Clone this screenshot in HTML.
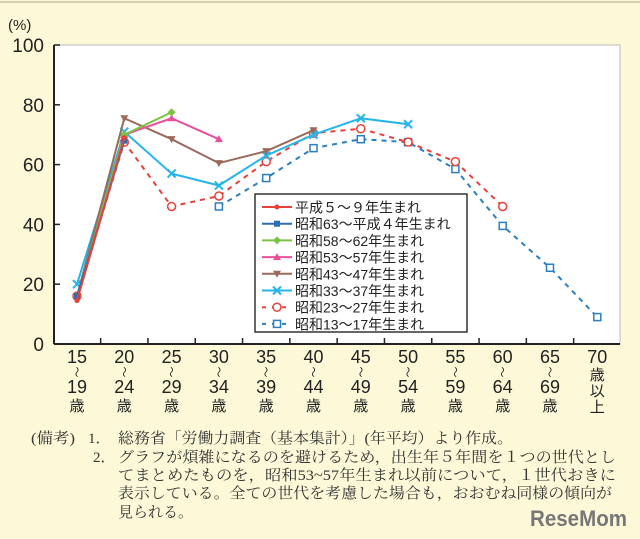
<!DOCTYPE html>
<html><head><meta charset="utf-8">
<style>
body{margin:0;background:#fdf9d8;}
svg{display:block;font-family:"Liberation Sans","Noto Sans CJK JP",sans-serif;}
</style></head>
<body>
<svg id="chart" width="640" height="539" viewBox="0 0 640 539">
<rect x="0" y="0" width="640" height="539" fill="#fdf9d8"/>
<line x1="0" y1="2" x2="640" y2="2" stroke="#d8d2b0" stroke-width="2"/>
<rect x="54" y="45" width="566" height="299" fill="#fff" stroke="#bbb" stroke-width="1"/>
<g id="axes"></g>
<g id="series"></g>
<g id="legend"></g>
<text x="8" y="30" font-size="15" fill="#222">(%)</text>
<g font-size="15" fill="#333" font-family="'Liberation Serif','Noto Serif CJK JP',serif">
<text x="31" y="443" textLength="44" lengthAdjust="spacingAndGlyphs">(備考)</text>
<text x="88" y="443">1．</text>
<text x="118" y="443" textLength="395" lengthAdjust="spacingAndGlyphs">総務省「労働力調査（基本集計）」(年平均）より作成。</text>
<text x="93" y="462">2．</text>
<text x="118" y="462" textLength="498" lengthAdjust="spacingAndGlyphs">グラフが煩雑になるのを避けるため，出生年５年間を１つの世代とし</text>
<text x="118" y="480" textLength="498" lengthAdjust="spacingAndGlyphs">てまとめたものを，昭和53~57年生まれ以前について，１世代おきに</text>
<text x="118" y="498" textLength="494" lengthAdjust="spacingAndGlyphs">表示している。全ての世代を考慮した場合も，おおむね同様の傾向が</text>
<text x="118" y="517" textLength="75" lengthAdjust="spacingAndGlyphs">見られる。</text>
</g>
<text x="530" y="526" font-size="22" font-weight="bold" fill="#777" textLength="97" lengthAdjust="spacingAndGlyphs">ReseMom</text>
</svg>
<script>
const categories=["15","20","25","30","35","40","45","50","55","60","65","70"];
const catLow=["19","24","29","34","39","44","49","54","59","64","69",""];
const yTicks=[0,20,40,60,80,100];
const seriesNames=["平成５～９年生まれ","昭和63～平成４年生まれ","昭和58～62年生まれ","昭和53～57年生まれ","昭和43～47年生まれ","昭和33～37年生まれ","昭和23～27年生まれ","昭和13～17年生まれ"];
const s1=[14.5,69];
const s2=[16,68];
const s3=[16,70,77.5];
const s4=[16,70,75.5,68.5];
const s5=[16,75.5,68.5,60.5,64.5,71.5];
const s6=[20,71,57,53,63,70,75.5,73.5];
const s7=[16,67.5,46,49.5,61,70.5,72,67.5,61,46];
const s8=[null,null,null,46,55.5,65.5,68.5,67.5,58.5,39.5,25.5,9];
const NS="http://www.w3.org/2000/svg";
function X(i){return 77+i*47.3;}
function Y(v){return 344-v*2.99;}
function mk(t,a,p){const e=document.createElementNS(NS,t);for(const k in a)e.setAttribute(k,a[k]);(p||document.getElementById('axes')).appendChild(e);return e;}
let l=mk('line',{x1:54,y1:45,x2:54,y2:344,stroke:'#222','stroke-width':2});


l=mk('line',{x1:54,y1:344,x2:620,y2:344,stroke:'#222','stroke-width':2});


yTicks.forEach(v=>{
 const t=mk('line',{x1:54,y1:Y(v),x2:60,y2:Y(v),stroke:'#222','stroke-width':1.5});
 
 
 const tx=mk('text',{x:44,y:Y(v)+7,'font-size':19,'text-anchor':'end',fill:'#222'});
 tx.textContent=v;
 
 
});
categories.forEach((c,i)=>{
 const bx=X(i)+23.65;
 if(i<categories.length-1){const t=mk('line',{x1:bx,y1:338,x2:bx,y2:344,stroke:'#222','stroke-width':1.5});
 
 }
 const g=mk('g',{'text-anchor':'middle',fill:'#222'});
 
 
 const lines=i<11?[c,'～',catLow[i],'歳']:[c,'歳','以','上'];
 const ys=i<11?[363,376,393,411]:[363,380,396,412];
 lines.forEach((s,j)=>{
  const isNum=!isNaN(parseInt(s));
  const tt=mk('text',{x:X(i),y:ys[j],'font-size':(s==='～'?11:(isNum?18:15))},g);
  if(s==='～'){tt.setAttribute('transform','rotate(90 '+X(i)+' '+(ys[j]-4)+')');}
  tt.textContent=s;});
});
const styles=[
 {c:'#e8403a',m:'dot',d:''},
 {c:'#2a6fb5',m:'sq',d:''},
 {c:'#7cc242',m:'dia',d:''},
 {c:'#e9509a',m:'tri',d:''},
 {c:'#9a6a5a',m:'tri2',d:''},
 {c:'#25b5e8',m:'x',d:''},
 {c:'#e8403a',m:'circ',d:'5,5'},
 {c:'#2a7fc0',m:'osq',d:'5,5'}];
const all=[s1,s2,s3,s4,s5,s6,s7,s8];
const sg=document.getElementById('series');
function marker(m,x,y,c,p){
 if(m==='dot')mk('circle',{cx:x,cy:y,r:2.5,fill:c},p);
 else if(m==='sq')mk('rect',{x:x-3,y:y-3,width:6,height:6,fill:c},p);
 else if(m==='dia')mk('path',{d:`M${x} ${y-4}L${x+4} ${y}L${x} ${y+4}L${x-4} ${y}Z`,fill:c},p);
 else if(m==='tri')mk('path',{d:`M${x} ${y-4}L${x+4} ${y+3}L${x-4} ${y+3}Z`,fill:c},p);
 else if(m==='tri2')mk('path',{d:`M${x} ${y+4}L${x+4} ${y-3}L${x-4} ${y-3}Z`,fill:c},p);
 else if(m==='x')mk('path',{d:`M${x-4} ${y-4}L${x+4} ${y+4}M${x+4} ${y-4}L${x-4} ${y+4}`,stroke:c,'stroke-width':2},p);
 else if(m==='circ')mk('circle',{cx:x,cy:y,r:4,fill:'#fff',stroke:c,'stroke-width':1.5},p);
 else mk('rect',{x:x-3.5,y:y-3.5,width:7,height:7,fill:'#fff',stroke:c,'stroke-width':1.5},p);
}
for(let k=all.length-1;k>=0;k--){
 const d=all[k],st=styles[k];
 const g=mk('g',{},sg);
 
 
 const pts=[];d.forEach((v,i)=>{if(v!==null)pts.push([X(i),Y(v)]);});
 mk('polyline',{points:pts.map(p=>p.join(',')).join(' '),fill:'none',stroke:st.c,'stroke-width':2,'stroke-dasharray':st.d},g);
 pts.forEach(p=>marker(st.m,p[0],p[1],st.c,g));
}
const lg=document.getElementById('legend');
const box=mk('rect',{x:255,y:194,width:212,height:138,fill:'#fff',stroke:'#333','stroke-width':1.5},lg);


seriesNames.forEach((n,k)=>{
 const y=207+k*16.7,st=styles[k];
 const g=mk('g',{},lg);
 
 
 mk('line',{x1:262,y1:y,x2:292,y2:y,stroke:st.c,'stroke-width':2,'stroke-dasharray':st.d?'4,6':''},g);
 marker(st.m,277,y,st.c,g);
 const t=mk('text',{x:295,y:y+5.5,'font-size':14,fill:'#222'},g);
 t.textContent=n;
});
</script>
</body></html>
